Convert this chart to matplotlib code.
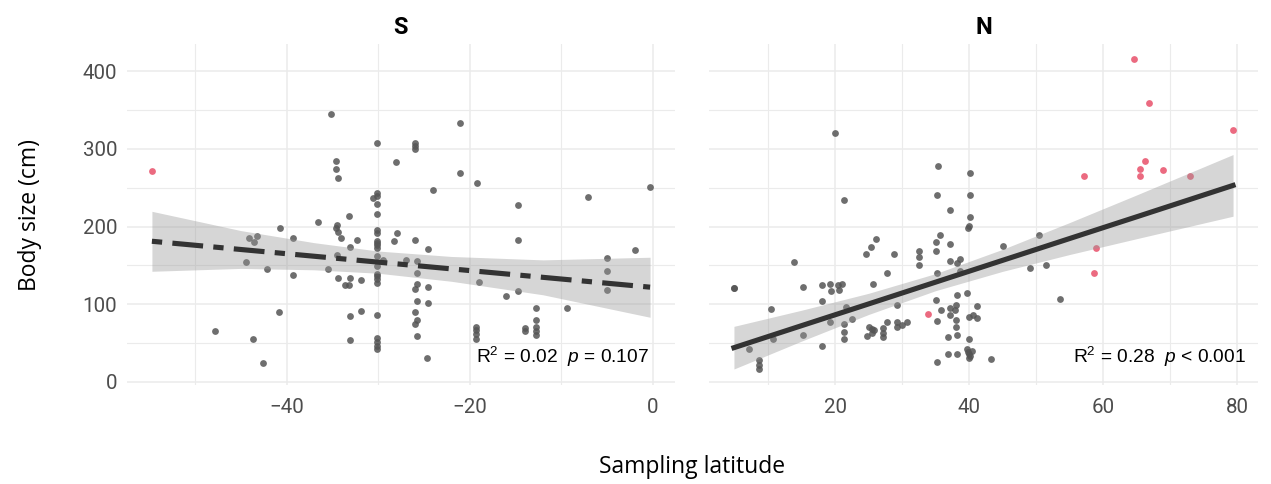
import numpy as np
import matplotlib
matplotlib.use('Agg')
import matplotlib.pyplot as plt
from matplotlib.ticker import MultipleLocator

plt.rcParams['mathtext.fontset'] = 'custom'
plt.rcParams['mathtext.rm'] = 'Liberation Sans'
plt.rcParams['mathtext.it'] = 'Liberation Sans:italic'

# --- S panel (southern hemisphere) ---
s_lat = [-35.1, -30.1, -28.0, -34.6, -34.6, -34.4, -26.0, -26.0, -26.0, -21.1,
         -21.1, -19.2, -24.0, -14.7, -7.1, -0.3, -30.55, -30.1, -30.1, -30.1,
         -30.1, -33.2, -36.6, -40.7, -34.5, -34.6, -34.4, -34.1, -39.3, -44.1,
         -43.2, -43.6, -32.3, -33.1, -30.1, -30.1, -30.1, -30.1, -30.1, -30.1,
         -30.1, -28.3, -27.9, -44.4, -42.1, -39.3, -35.5, -34.5, -29.5, -30.1,
         -30.1, -30.1, -30.1, -30.1, -34.4, -33.6, -33.2, -33.1, -31.9, -40.8,
         -47.8, -43.7, -42.6, -33.1, -31.9, -33.1, -30.1, -30.1, -30.1, -30.1,
         -30.1, -26.0, -24.5, -27.0, -25.7, -25.7, -25.7, -26.0, -24.5, -25.7,
         -24.5, -26.0, -25.7, -26.0, -25.7, -24.7, -19.0, -19.3, -19.3, -19.3,
         -19.3, -16.0, -14.7, -14.7, -14.0, -14.0, -12.8, -12.8, -12.8, -12.8,
         -12.8, -9.4, -5.0, -5.0, -5.0, -1.9]
s_size = [345, 308, 283.5, 285, 273.6, 263, 307.6, 303.5, 300.6, 333,
          268.5, 256.5, 246.6, 228, 237.6, 250.5, 236.5, 243, 240, 229.5,
          216, 213, 206, 198, 202, 198, 193, 185, 185, 185.7,
          188, 180, 182.5, 174, 196, 191.8, 181, 179, 175.6, 172,
          161.7, 181, 191.8, 154, 145, 137, 145, 163, 156.5, 148.8,
          139.4, 136, 131.7, 127.4, 133, 124, 124, 133, 131, 89.6,
          65, 55, 23.5, 85, 91.5, 54, 85.3, 56.6, 51, 46,
          41.6, 182, 170.7, 157, 156, 140, 126.5, 119, 122, 103.7,
          100.8, 90, 79, 74.5, 58.7, 31, 128, 70.8, 66.4, 61.8,
          54.4, 110.7, 117.5, 182, 69.5, 65, 95, 80, 70.8, 65,
          59.6, 95, 160, 143, 118.8, 170]
s_red_lat = [-54.7]
s_red_size = [271]

# linear fit and 95% band
s_fit_lat = [-54.7, -45, -37, -30, -22, -12, -0.3]
s_fit = [181, 170.4, 161.7, 154.1, 145.4, 134.5, 121.8]
s_ci_lo = [142.3, 146.0, 144.2, 139.8, 129.4, 112.0, 83.0]
s_ci_hi = [219.6, 194.8, 179.2, 168.4, 161.4, 157.0, 160.4]

# --- N panel (northern hemisphere) ---
n_lat = [4.9, 4.9, 7.2, 8.7, 8.7, 8.7, 10.5, 10.8, 13.8, 15.2,
         15.2, 18.0, 18.0, 18.0, 19.25, 19.4, 19.25, 20.0, 20.5, 21.0,
         20.6, 21.4, 21.6, 21.4, 21.4, 21.4, 22.5, 24.6, 25.4, 26.1,
         25.7, 25.0, 25.5, 25.8, 24.7, 25.5, 27.1, 27.1, 27.1, 27.7,
         27.8, 28.8, 29.25, 29.2, 29.3, 29.95, 30.8, 32.5, 32.5, 32.5,
         35.3, 35.2, 35.6, 35.1, 35.1, 35.2, 35.1, 35.2, 35.2, 35.8,
         36.9, 36.9, 37.1, 37.1, 37.1, 37.1, 37.1, 37.9, 38.06, 38.1,
         38.0, 38.15, 38.25, 38.2, 38.25, 38.66, 38.7, 39.65, 39.8, 40.0,
         40.1, 40.1, 40.1, 40.0, 40.6, 41.2, 41.2, 40.0, 39.7, 39.8,
         40.0, 40.0, 40.5, 40.2, 43.3, 45.0, 49.1, 50.4, 51.5, 53.6]
n_size = [121, 121, 41.6, 27.4, 21, 16.7, 94.3, 54.4, 154.8, 122,
          59.6, 125, 103.7, 46, 126, 116.5, 77.4, 320, 125, 125.5,
          118.8, 233.7, 96.5, 73.7, 64.5, 54.4, 81, 164.2, 173, 184.4,
          126, 70.5, 68.5, 66, 58.7, 62.5, 68.6, 63, 58, 76.7,
          140.5, 164.2, 98.6, 76.7, 70.8, 72.5, 76.7, 168.6, 161, 151,
          277.5, 240.7, 189, 180.2, 168.6, 139.6, 105, 78.3, 25.9, 92.5,
          57.9, 36, 221, 177.6, 155, 95.5, 86.4, 91.8, 98.6, 79.3,
          70.5, 60.5, 36, 111.5, 153, 158.5, 143, 114.7, 198.2, 200.3,
          268.5, 240.7, 212.7, 83.6, 85.5, 82, 97.3, 55, 42.5, 38,
          35, 31, 39.4, 33, 28.7, 175, 146, 188.7, 151, 106.8]
n_red_lat = [33.8, 57.1, 58.6, 59.0, 64.6, 66.9, 65.5, 65.5, 66.3, 68.9, 73.0, 79.4]
n_red_size = [87, 265, 140.3, 172.5, 416, 359.5, 274, 265.5, 284, 273.2, 264.6, 325]

n_fit_lat = [4.9, 15, 25, 35, 45, 55, 65, 79.4]
n_fit = [43.8, 72.2, 100.2, 128.3, 156.4, 184.5, 212.5, 253.0]
n_ci_lo = [16.3, 52.3, 86.6, 117.3, 142.2, 163.9, 184.3, 213.3]
n_ci_hi = [71.3, 92.1, 113.9, 139.3, 170.6, 205.1, 240.7, 292.8]

s_label = r'R$^{2}$ = 0.02  $p$ = 0.107'
n_label = r'R$^{2}$ = 0.28  $p$ < 0.001'

GREY = '#555555'
RED = '#E8506A'
LINE = '#333333'

fig = plt.figure(figsize=(12.71, 4.84), dpi=100)
ax1 = fig.add_axes([127 / 1271, 99.5 / 484, 548 / 1271, 341 / 484])
ax2 = fig.add_axes([709 / 1271, 99.5 / 484, 549 / 1271, 341 / 484], sharey=ax1)

panels = [
    (ax1, s_lat, s_size, s_red_lat, s_red_size, s_fit_lat, s_fit, s_ci_lo, s_ci_hi,
     'S', s_label, 0.952, (0, (2, 2, 6, 2))),
    (ax2, n_lat, n_size, n_red_lat, n_red_size, n_fit_lat, n_fit, n_ci_lo, n_ci_hi,
     'N', n_label, 0.978, '-'),
]

for ax, lat, size, rlat, rsize, fx, fy, lo, hi, title, label, lx, ls in panels:
    ax.scatter(lat, size, s=24, color=GREY, alpha=0.85, linewidths=0, zorder=2)
    ax.scatter(rlat, rsize, s=24, color=RED, alpha=0.85, linewidths=0, zorder=2)
    ax.fill_between(fx, lo, hi, color='#999999', alpha=0.4, linewidth=0, zorder=3)
    ax.plot(fx, fy, color=LINE, lw=3.7, linestyle=ls, zorder=4)

    ax.set_title(title, fontsize=17, fontweight='bold', family='Roboto', pad=7)
    ax.text(lx, 0.081, label, transform=ax.transAxes, ha='right', va='center',
            fontsize=13.8, family='Liberation Sans', color='black', zorder=5)

    for sp in ax.spines.values():
        sp.set_visible(False)
    ax.set_axisbelow(True)
    ax.grid(True, which='major', color='#EBEBEB', lw=1.1)
    ax.grid(True, which='minor', color='#EBEBEB', lw=0.8)
    ax.tick_params(which='both', length=0, labelsize=14.8, labelcolor='#4D4D4D')
    ax.tick_params(axis='x', pad=10)
    ax.tick_params(axis='y', pad=7)

ax1.xaxis.set_major_locator(MultipleLocator(20))
ax1.xaxis.set_minor_locator(MultipleLocator(10))
ax2.xaxis.set_major_locator(MultipleLocator(20))
ax2.xaxis.set_minor_locator(MultipleLocator(10))
ax1.yaxis.set_major_locator(MultipleLocator(100))
ax1.yaxis.set_minor_locator(MultipleLocator(50))
ax2.tick_params(axis='y', labelleft=False)

for ax in (ax1, ax2):
    for lab in ax.get_xticklabels() + ax.get_yticklabels():
        lab.set_family('Roboto')

fig.text(692.5 / 1271, 1 - 467 / 484, 'Sampling latitude', ha='center', va='center',
         fontsize=16.5, family='Open Sans')
fig.text(30 / 1271, 1 - 215 / 484, 'Body size (cm)', ha='center', va='center',
         rotation=90, fontsize=16.5, family='Open Sans')

fig.savefig('out.png', dpi=100)
